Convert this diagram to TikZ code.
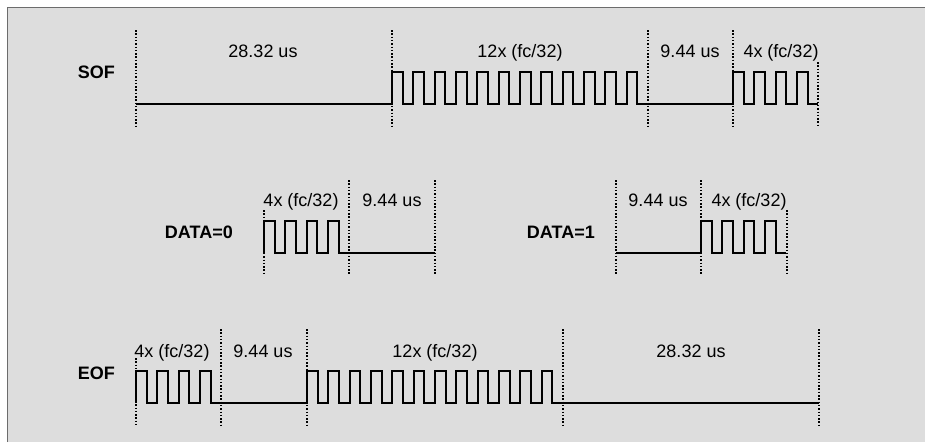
\documentclass[tikz,border=0pt]{standalone}
\usepackage{fontspec}
\setmainfont{Liberation Sans}
\usetikzlibrary{positioning}
\definecolor{framefill}{RGB}{221,221,221}
\definecolor{framegray}{RGB}{108,108,108}
\newcommand{\halfper}{10.667}
\tikzset{%
        sig/.style = {line width=2pt, black, line join=miter},
      guide/.style = {line width=1.5pt, black, dash pattern=on 1.5pt off 1.8pt},
        lbl/.style = {anchor=base, inner sep=0pt, font=\fontsize{18}{21}\selectfont},
    rowname/.style = {anchor=base east, inner sep=0pt, font=\fontsize{18}{21}\selectfont\bfseries},
}

\begin{document}
\begin{tikzpicture}[x=1pt, y=-1pt]
  \useasboundingbox (0,0) rectangle (925,442);
  \fill[framefill] (7.5,7.5) rectangle (925,442);
  \draw[line width=1.6pt, framegray] (7.5,442) -- (7.5,7.5) -- (925,7.5);

  % SOF
  \node[rowname] (onSof) at (115,78) {SOF};
  \foreach \x in {136,392,648,733} \draw[guide] (\x,30) -- (\x,126);
  \draw[guide] (818,62) -- (818,126);
  \draw[sig] (136,104) -- (392,104)
    foreach \i in {1,...,12} { -- ++(0,-32) -- ++(\halfper,0) -- ++(0,32) -- ++(\halfper,0) }
    -- (733,104)
    foreach \i in {1,...,4} { -- ++(0,-32) -- ++(\halfper,0) -- ++(0,32) -- ++(\halfper,0) };
  \node[lbl] (onSofIdle)  at (263,57) {28.32 us};
  \node[lbl] (onSofBurst) at (520,57) {12x (fc/32)};
  \node[lbl] (onSofGap)   at (690,57) {9.44 us};
  \node[lbl] (onSofTail)  at (781,57) {4x (fc/32)};

  % DATA=0
  \node[rowname] (onZero) at (233,238) {DATA=0};
  \foreach \x in {349,435} \draw[guide] (\x,180) -- (\x,275);
  \draw[guide] (264,210) -- (264,275);
  \draw[sig] (264,253)
    foreach \i in {1,...,4} { -- ++(0,-32) -- ++(\halfper,0) -- ++(0,32) -- ++(\halfper,0) }
    -- (435,253);
  \node[lbl] (onZeroBurst) at (301,206) {4x (fc/32)};
  \node[lbl] (onZeroGap)   at (392,206) {9.44 us};

  % DATA=1
  \node[rowname] (onOne) at (595,238) {DATA=1};
  \foreach \x in {616,701} \draw[guide] (\x,180) -- (\x,275);
  \draw[guide] (787,210) -- (787,275);
  \draw[sig] (616,253) -- (701,253)
    foreach \i in {1,...,4} { -- ++(0,-32) -- ++(\halfper,0) -- ++(0,32) -- ++(\halfper,0) };
  \node[lbl] (onOneGap)   at (658,206) {9.44 us};
  \node[lbl] (onOneBurst) at (749,206) {4x (fc/32)};

  % EOF
  \node[rowname] (onEof) at (115,379) {EOF};
  \foreach \x in {221,307,563,819} \draw[guide] (\x,329) -- (\x,425);
  \draw[guide] (136,358) -- (136,425);
  \draw[sig] (136,403)
    foreach \i in {1,...,4} { -- ++(0,-32) -- ++(\halfper,0) -- ++(0,32) -- ++(\halfper,0) }
    -- (307,403)
    foreach \i in {1,...,12} { -- ++(0,-32) -- ++(\halfper,0) -- ++(0,32) -- ++(\halfper,0) }
    -- (819,403);
  \node[lbl] (onEofHead)  at (172,357) {4x (fc/32)};
  \node[lbl] (onEofGap)   at (263,357) {9.44 us};
  \node[lbl] (onEofBurst) at (435,357) {12x (fc/32)};
  \node[lbl] (onEofIdle)  at (691,357) {28.32 us};
\end{tikzpicture}
\end{document}
